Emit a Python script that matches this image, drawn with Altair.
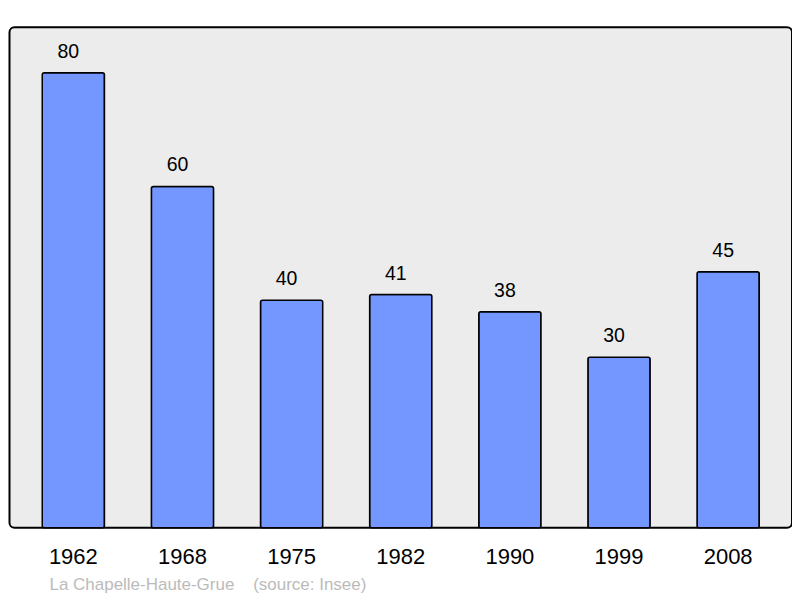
import altair as alt
import pandas as pd

years = ["1962", "1968", "1975", "1982", "1990", "1999", "2008"]
population = [80, 60, 40, 41, 38, 30, 45]

df = pd.DataFrame({"year": years, "pop": population})

FONT = "Liberation Sans"

x = alt.X("year:N", sort=years,
          scale=alt.Scale(paddingInner=0.43, paddingOuter=0.3),
          axis=alt.Axis(title=None, labelAngle=0, ticks=False, domain=False,
                        labelFontSize=22, labelFont=FONT, labelColor="black",
                        labelPadding=19, grid=False))
y = alt.Y("pop:Q", scale=alt.Scale(domain=[0, 88], nice=False, zero=True), axis=None)

bars = alt.Chart(df).mark_bar(
    color="#7396ff", stroke="black", strokeWidth=1.5, cornerRadius=2
).encode(x=x, y=y)

labels = alt.Chart(df).mark_text(
    dx=-5, dy=-21, fontSize=19.5, font=FONT, color="black", baseline="middle"
).encode(x=x, y=y, text="pop:Q")

chart = (bars + labels).properties(
    width=783, height=501,
    padding={"left": 1.5, "top": 19, "right": 0, "bottom": 70},
    autosize="none",
    title=alt.TitleParams(
        text="La Chapelle-Haute-Grue\u00a0\u00a0\u00a0 (source: Insee)",
        orient="bottom", anchor="start", dx=40, offset=9,
        fontSize=17, font=FONT, fontWeight="normal", color="#bbbbbb"
    ),
).configure_view(
    fill="#ececec", stroke="black", strokeWidth=2, cornerRadius=5
)

chart.save("out.html", embed_options={"renderer": "svg", "actions": False})
